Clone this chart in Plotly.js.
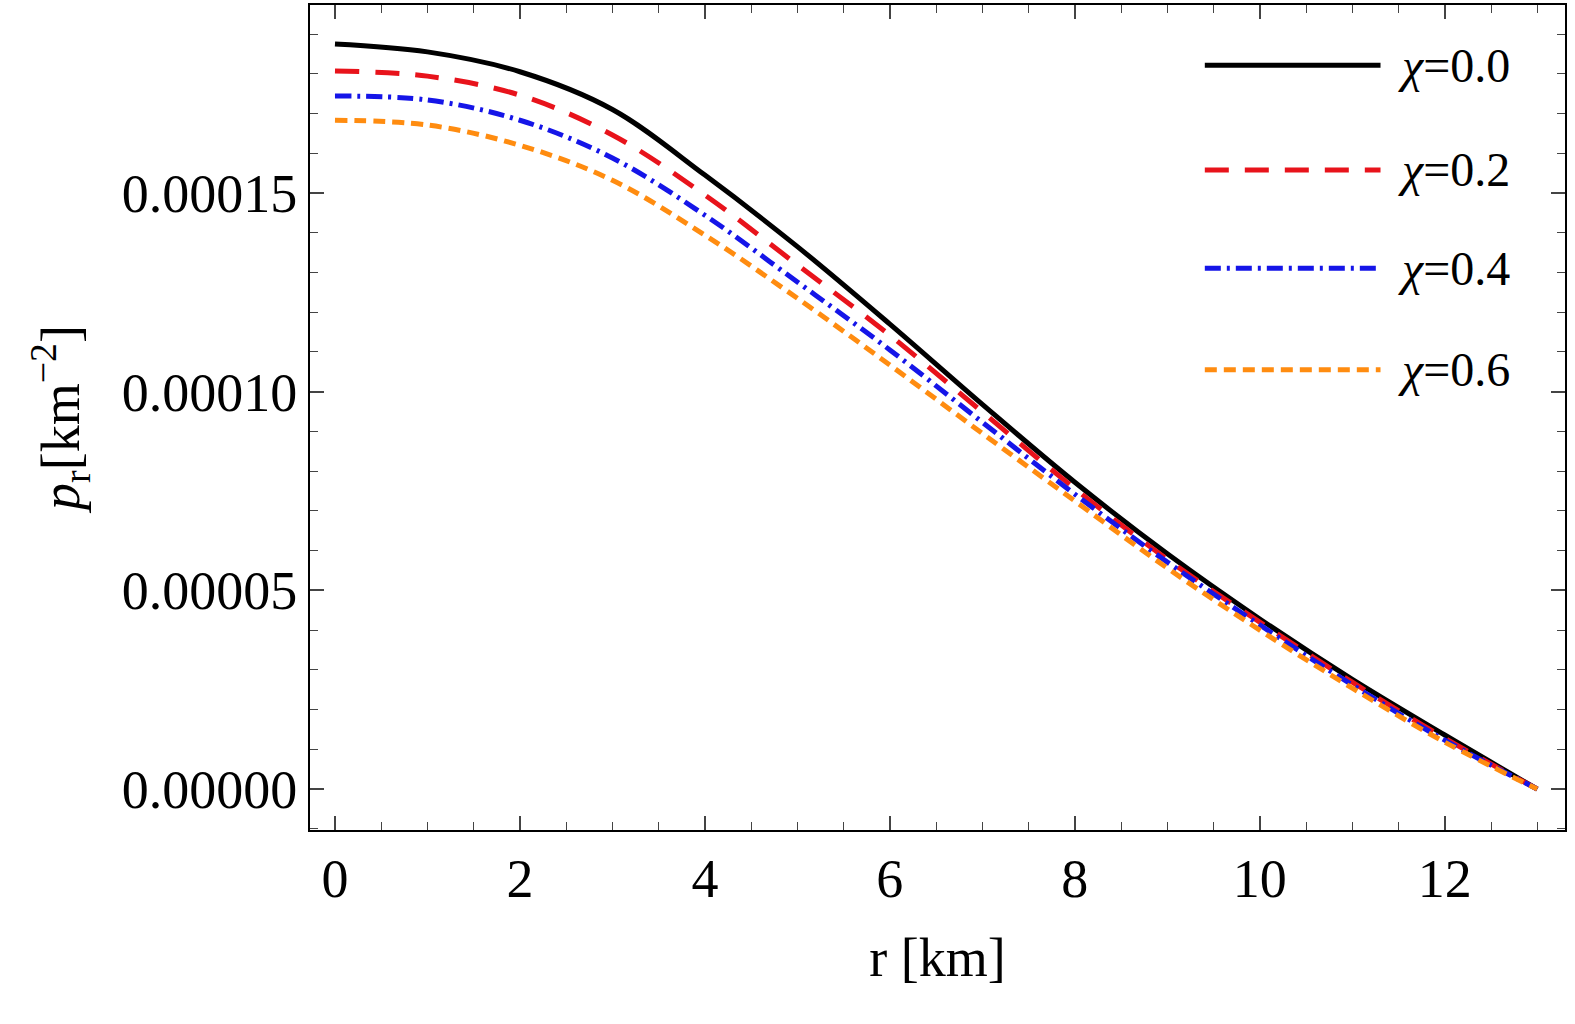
<!DOCTYPE html>
<html><head><script src="https://cdn.plot.ly/plotly-3.0.1.min.js"></script>
<style>body{margin:0}</style></head><body>
<div id="g" style="width:1575px;height:1024px"></div>
<script>
const r = [0,1,2,3,4,5,6,7,8,9,10,11,12,13];
const p00 = [0.0001875,0.0001855,0.0001805,0.000171,0.0001545,0.0001365,0.000117,0.0000968,0.0000772,0.0000592,0.0000428,0.0000276,0.0000136,0];
const p02 = [0.0001807,0.0001794,0.0001746,0.0001646,0.0001495,0.0001319,0.0001142,0.0000949,0.0000756,0.0000578,0.000042,0.0000269,0.0000128,0];
const p04 = [0.0001744,0.0001734,0.0001683,0.0001588,0.0001444,0.0001276,0.0001105,0.0000923,0.0000742,0.0000571,0.0000413,0.0000262,0.0000123,0];
const p06 = [0.0001683,0.0001671,0.000162,0.0001532,0.0001394,0.0001235,0.0001067,0.0000895,0.0000725,0.0000556,0.00004,0.0000254,0.0000118,0];
const names = ['<i>χ</i>=0.0','<i>χ</i>=0.2','<i>χ</i>=0.4','<i>χ</i>=0.6'];
const ys=[p00,p02,p04,p06];
const styles=[{color:'black',dash:'solid'},{color:'#e8131b',dash:'24px,16px'},{color:'#1515e8',dash:'16px,6px,3px,6px'},{color:'#ff8c10',dash:'12px,7px'}];
const data = ys.map((y,i)=>({x:r,y:y,name:names[i],mode:'lines',showlegend:false,line:{color:styles[i].color,dash:styles[i].dash,width:5,shape:'spline'}}));
const f={family:'Liberation Serif',size:54,color:'black'};
const ax={showgrid:false,zeroline:false,ticks:'inside',ticklen:14,tickwidth:1.5,mirror:'allticks',showline:true,linewidth:2,linecolor:'black',tickfont:f};
const ly=[0.927,0.8,0.681,0.558];
const shapes=ly.map((y,i)=>({type:'line',xref:'paper',yref:'paper',x0:0.713,x1:0.853,y0:y,y1:y,line:{color:styles[i].color,dash:styles[i].dash,width:5}}));
const annotations=ly.map((y,i)=>({xref:'paper',yref:'paper',x:0.865,y:y,xanchor:'left',yanchor:'middle',text:names[i],showarrow:false,font:{family:'Liberation Serif',size:48,color:'black'}}));
Plotly.newPlot('g',data,{
 width:1575,height:1024,margin:{l:310,r:10,t:5,b:194},
 paper_bgcolor:'white',plot_bgcolor:'white',font:f,showlegend:false,
 shapes:shapes,annotations:annotations,
 xaxis:Object.assign({},ax,{range:[-0.27,13.3],dtick:2,tick0:0,minor:{ticks:'inside',ticklen:8,tickwidth:1,dtick:0.5},title:{text:'r [km]',font:f,standoff:30}}),
 yaxis:Object.assign({},ax,{range:[-0.0000103,0.0001973],dtick:0.00005,tickformat:'.5f',minor:{ticks:'inside',ticklen:8,tickwidth:1,dtick:0.00001},title:{text:'<i>p</i><sub>r</sub>[km<sup>−2</sup>]',font:f,standoff:25}})
},{displayModeBar:false});
</script></body></html>
